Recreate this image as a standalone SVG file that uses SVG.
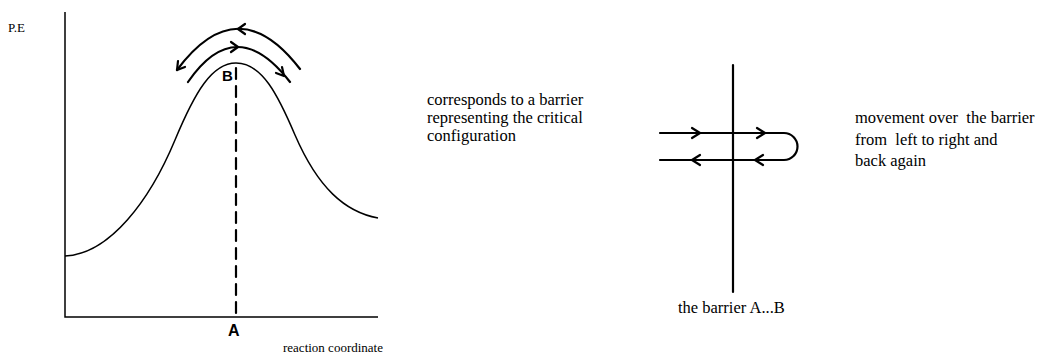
<svg xmlns="http://www.w3.org/2000/svg" width="1041" height="353" viewBox="0 0 1041 353">
<style>
.ln{fill:none;stroke:#000;stroke-width:1.5}
.th{fill:none;stroke:#000;stroke-width:2.2;stroke-linecap:round;stroke-linejoin:round}
.t{font-family:"Liberation Serif",serif;font-size:16.5px;fill:#000;white-space:pre}
.s{font-family:"Liberation Serif",serif;font-size:13px;fill:#000}
.h{font-family:"Liberation Sans",sans-serif;font-weight:bold;fill:#000}
</style>
<rect width="1041" height="353" fill="#fff"/>
<g id="graph">
<path class="ln" d="M65,12 L65,317 L378,317"/>
<path class="ln" d="M65,256 C110,254 150,200 175,140 C195,92 212,63 236,63 C262,63 278,95 295,135 C318,188 345,212 378,218"/>
<line class="th" x1="236" y1="68" x2="236" y2="317" stroke-dasharray="11 7" stroke-linecap="butt"/>
<text class="s" x="8" y="32">P.E</text>
<text class="h" x="222" y="81" font-size="15">B</text>
<text class="h" x="228" y="336" font-size="16">A</text>
<text class="s" x="283" y="352" font-size="14">reaction coordinate</text>
</g>
<g id="connectors">
<path class="th" d="M188,82 Q236,12 290,82"/>
<path class="th" d="M231,42 L238,47 L231,52"/>
<path class="th" d="M276,73 L284,76 L282,67"/>
<path class="th" d="M177,70 Q238,-12 300,69"/>
<path class="th" d="M245,24 L238,29 L245,34"/>
<path class="th" d="M178,61 L177,70 L185,67"/>
</g>
<g id="middle-text">
<text class="t" x="427" y="105">corresponds to a barrier</text>
<text class="t" x="427" y="123">representing the critical</text>
<text class="t" x="427" y="141">configuration</text>
</g>
<g id="barrier">
<line class="th" x1="733" y1="65" x2="733" y2="292" stroke-linecap="butt"/>
<path class="th" d="M660,133 L784,133 A13.5,13.5 0 0 1 784,160 L660,160"/>
<path class="th" d="M692,128 L700,133 L692,138"/>
<path class="th" d="M757,128 L765,133 L757,138"/>
<path class="th" d="M700,155 L692,160 L700,165"/>
<path class="th" d="M763,155 L755,160 L763,165"/>
<text class="t" x="678" y="313">the barrier A...B</text>
</g>
<g id="right-text">
<text class="t" x="855" y="123">movement over  the barrier</text>
<text class="t" x="855" y="145">from  left to right and</text>
<text class="t" x="855" y="166">back again</text>
</g>
</svg>
